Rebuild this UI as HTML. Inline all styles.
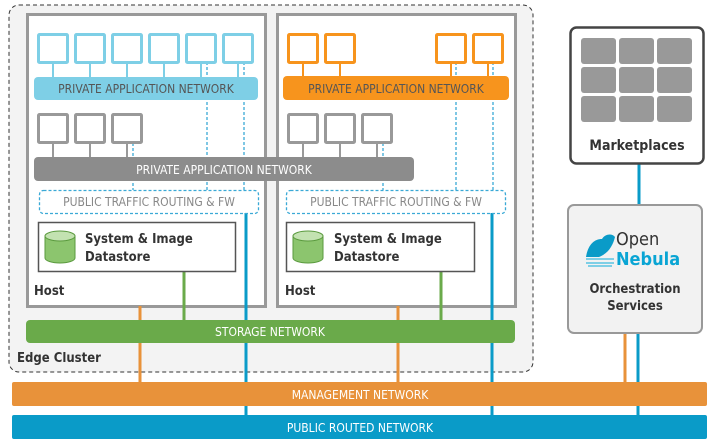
<!DOCTYPE html>
<html><head><meta charset="utf-8"><style>body{margin:0;background:#fff}svg{display:block}text{font-family:"DejaVu Sans Condensed","Liberation Sans Narrow","Liberation Sans",sans-serif}</style></head><body>
<svg width="712" height="444" viewBox="0 0 712 444" xmlns="http://www.w3.org/2000/svg">
<rect x="9" y="5" width="524" height="367" rx="10" fill="#f3f3f3" stroke="#333" stroke-width="1" stroke-dasharray="4,3"/>
<g fill="#fff" stroke="#999" stroke-width="3">
<rect x="27.5" y="14.5" width="238" height="292"/>
<rect x="277.5" y="14.5" width="238" height="292"/>
</g>
<!-- vertical connectors -->
<g stroke-width="3">
<line x1="140" y1="306" x2="140" y2="383" stroke="#e8923a"/>
<line x1="398" y1="306" x2="398" y2="383" stroke="#e8923a"/>
<line x1="184" y1="272" x2="184" y2="321" stroke="#6aaa4a"/>
<line x1="441" y1="272" x2="441" y2="321" stroke="#6aaa4a"/>
<line x1="246" y1="213" x2="246" y2="416" stroke="#0a9bc8"/>
<line x1="492" y1="213" x2="492" y2="416" stroke="#0a9bc8"/>
<line x1="639" y1="163" x2="639" y2="206" stroke="#0a9bc8"/>
<line x1="625" y1="332" x2="625" y2="383" stroke="#e8923a"/>
<line x1="638" y1="332" x2="638" y2="416" stroke="#0a9bc8"/>
</g>
<g stroke="#3aa9d6" stroke-width="1.3" stroke-dasharray="3,2" fill="none">
<line x1="207" y1="62" x2="207" y2="190"/><line x1="244" y1="62" x2="244" y2="190"/><line x1="133" y1="143" x2="133" y2="190"/>
<line x1="456" y1="62" x2="456" y2="190"/><line x1="493" y1="62" x2="493" y2="190"/><line x1="383" y1="143" x2="383" y2="190"/>
<rect x="39.5" y="190.5" width="219" height="23" rx="4"/>
<rect x="286.5" y="190.5" width="219" height="23" rx="4"/>
</g>
<!-- VM stems -->
<g stroke-width="2">
<g stroke="#7ecfe6"><line x1="53" y1="62" x2="53" y2="78"/><line x1="90" y1="62" x2="90" y2="78"/><line x1="127" y1="62" x2="127" y2="78"/><line x1="164" y1="62" x2="164" y2="78"/><line x1="201" y1="62" x2="201" y2="78"/><line x1="238" y1="62" x2="238" y2="78"/></g>
<g stroke="#f7941d"><line x1="303" y1="62" x2="303" y2="78"/><line x1="340" y1="62" x2="340" y2="78"/><line x1="451" y1="62" x2="451" y2="78"/><line x1="488" y1="62" x2="488" y2="78"/></g>
<g stroke="#999"><line x1="53" y1="143" x2="53" y2="158"/><line x1="90" y1="143" x2="90" y2="158"/><line x1="127" y1="143" x2="127" y2="158"/><line x1="303" y1="143" x2="303" y2="158"/><line x1="340" y1="143" x2="340" y2="158"/><line x1="377" y1="143" x2="377" y2="158"/></g>
</g>
<g fill="#fff" stroke-width="3">
<g stroke="#7ecfe6"><rect x="38.5" y="34.5" width="29" height="28" rx="1"/><rect x="75.5" y="34.5" width="29" height="28" rx="1"/><rect x="112.5" y="34.5" width="29" height="28" rx="1"/><rect x="149.5" y="34.5" width="29" height="28" rx="1"/><rect x="186.5" y="34.5" width="29" height="28" rx="1"/><rect x="223.5" y="34.5" width="29" height="28" rx="1"/></g>
<g stroke="#f7941d"><rect x="288.5" y="34.5" width="29" height="28" rx="1"/><rect x="325.5" y="34.5" width="29" height="28" rx="1"/><rect x="436.5" y="34.5" width="29" height="28" rx="1"/><rect x="473.5" y="34.5" width="29" height="28" rx="1"/></g>
<g stroke="#999"><rect x="38.5" y="114.5" width="29" height="28" rx="1"/><rect x="75.5" y="114.5" width="29" height="28" rx="1"/><rect x="112.5" y="114.5" width="29" height="28" rx="1"/><rect x="288.5" y="114.5" width="29" height="28" rx="1"/><rect x="325.5" y="114.5" width="29" height="28" rx="1"/><rect x="362.5" y="114.5" width="29" height="28" rx="1"/></g>
</g>
<rect x="34" y="77" width="224" height="23" rx="4" fill="#7ecfe6"/>
<text x="146" y="93" font-size="12" fill="#555" text-anchor="middle">PRIVATE APPLICATION NETWORK</text>
<rect x="283" y="76" width="226" height="24" rx="4" fill="#f7941d"/>
<text x="396" y="93" font-size="12" fill="#555" text-anchor="middle">PRIVATE APPLICATION NETWORK</text>
<rect x="34" y="157" width="380" height="24" rx="4" fill="#8c8c8c"/>
<text x="224" y="174" font-size="12" fill="#fff" text-anchor="middle">PRIVATE APPLICATION NETWORK</text>
<text x="149" y="206" font-size="12" fill="#888" text-anchor="middle">PUBLIC TRAFFIC ROUTING &amp; FW</text>
<text x="396" y="206" font-size="12" fill="#888" text-anchor="middle">PUBLIC TRAFFIC ROUTING &amp; FW</text>
<!-- datastores -->
<g>
<rect x="38.5" y="222.5" width="197" height="49" fill="#fff" stroke="#555" stroke-width="1.5"/>
<rect x="286.5" y="222.5" width="188" height="49" fill="#fff" stroke="#555" stroke-width="1.5"/>
<g fill="#8cc56e" stroke="#5a9a3e" stroke-width="1">
<path d="M45 236 v22 a15 5 0 0 0 30 0 v-22 z"/><ellipse cx="60" cy="236" rx="15" ry="5" fill="#c3e2b1"/>
<path d="M293 236 v22 a15 5 0 0 0 30 0 v-22 z"/><ellipse cx="308" cy="236" rx="15" ry="5" fill="#c3e2b1"/>
</g>
<text font-size="13" font-weight="bold" fill="#333"><tspan x="85" y="243">System &amp; Image</tspan><tspan x="85" y="261">Datastore</tspan></text>
<text font-size="13" font-weight="bold" fill="#333"><tspan x="334" y="243">System &amp; Image</tspan><tspan x="334" y="261">Datastore</tspan></text>
<text x="34" y="295" font-size="13" font-weight="bold" fill="#333">Host</text>
<text x="285" y="295" font-size="13" font-weight="bold" fill="#333">Host</text>
</g>
<rect x="26" y="320" width="489" height="23" rx="4" fill="#6aaa4a"/>
<text x="270" y="336" font-size="12" fill="#fff" text-anchor="middle">STORAGE NETWORK</text>
<text x="17" y="362" font-size="13" font-weight="bold" fill="#333">Edge Cluster</text>
<rect x="12" y="382" width="695" height="24" rx="2" fill="#e8923a"/>
<text x="360" y="399" font-size="12" fill="#fff" text-anchor="middle">MANAGEMENT NETWORK</text>
<rect x="12" y="415" width="695" height="24" rx="2" fill="#0a9bc8"/>
<text x="360" y="432" font-size="12" fill="#fff" text-anchor="middle">PUBLIC ROUTED NETWORK</text>
<!-- Marketplaces -->
<rect x="570.5" y="27.5" width="133" height="136" rx="6" fill="#fff" stroke="#444" stroke-width="2.5"/>
<g fill="#999">
<rect x="581" y="38" width="35" height="26" rx="3"/><rect x="619" y="38" width="35" height="26" rx="3"/><rect x="657" y="38" width="35" height="26" rx="3"/>
<rect x="581" y="67" width="35" height="26" rx="3"/><rect x="619" y="67" width="35" height="26" rx="3"/><rect x="657" y="67" width="35" height="26" rx="3"/>
<rect x="581" y="96" width="35" height="26" rx="3"/><rect x="619" y="96" width="35" height="26" rx="3"/><rect x="657" y="96" width="35" height="26" rx="3"/>
</g>
<text x="637" y="150" font-size="14" font-weight="bold" fill="#333" text-anchor="middle">Marketplaces</text>
<!-- OpenNebula -->
<rect x="568" y="205" width="134" height="128" rx="6" fill="#f2f2f2" stroke="#999" stroke-width="2"/>
<path d="M586 257 c2-12 8-18 16-18 c3-5 10-6 13-2 c-2 8 -6 16 -16 20 z" fill="#0a9bc8"/>
<path d="M586 259 h28 M586 263 h28 M588 266 h24" stroke="#7ecfe6" stroke-width="2"/>
<text x="616" y="245" font-size="18" fill="#333">Open</text>
<text x="616" y="265" font-size="18" fill="#0aa5d4" font-weight="bold">Nebula</text>
<text font-size="13" font-weight="bold" fill="#333" text-anchor="middle"><tspan x="635" y="293">Orchestration</tspan><tspan x="635" y="310">Services</tspan></text>
</svg>
</body></html>
